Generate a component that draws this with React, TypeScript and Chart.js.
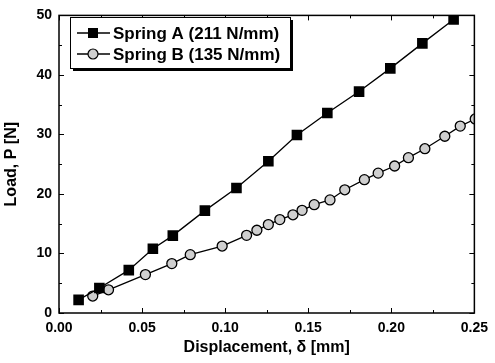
import React, { useEffect, useRef } from "react";
import { Chart, registerables } from "chart.js";

Chart.register(...registerables);

const springALabel = "Spring A (211 N/mm)";
const springAX = [0.0118, 0.0243, 0.042, 0.0565, 0.0685, 0.0878, 0.1068, 0.126, 0.1432, 0.1615, 0.1806, 0.1994, 0.2187, 0.2375];
const springAY = [2.2, 4.2, 7.2, 10.8, 13.0, 17.2, 21.0, 25.5, 29.9, 33.6, 37.2, 41.1, 45.3, 49.3];

const springBLabel = "Spring B (135 N/mm)";
const springBX = [0.0203, 0.0298, 0.052, 0.0679, 0.079, 0.0982, 0.1129, 0.1191, 0.126, 0.1329, 0.1408, 0.1463, 0.1536, 0.1631, 0.172, 0.1838, 0.1921, 0.202, 0.2103, 0.2202, 0.2322, 0.2415, 0.2505];
const springBY = [2.85, 3.9, 6.45, 8.3, 9.8, 11.25, 13.05, 13.9, 14.85, 15.7, 16.5, 17.25, 18.2, 19.0, 20.7, 22.4, 23.5, 24.7, 26.1, 27.6, 29.7, 31.4, 32.6];

const xMajorTicks = [0, 0.05, 0.1, 0.15, 0.2, 0.25];
const xMinorTicks = [0.025, 0.075, 0.125, 0.175, 0.225];
const yMajorTicks = [0, 10, 20, 30, 40, 50];
const yMinorTicks = [5, 15, 25, 35, 45];

const xTitle = "Displacement, \u03b4 [mm]";
const yTitle = "Load, P [N]";

const FONT = "'Liberation Sans', Arial, sans-serif";

const frameTicksPlugin = {
  id: "frameTicks",
  afterDatasetsDraw(chart: any) {
    const { ctx, chartArea: a, scales } = chart;
    const xs = scales.x;
    const ys = scales.y;
    ctx.save();
    ctx.strokeStyle = "#000";
    ctx.lineWidth = 1;
    const major = 5;
    const minor = 3;
    const drawX = (vals: number[], len: number) => {
      vals.forEach((v) => {
        const px = Math.round(xs.getPixelForValue(v)) + 0.5;
        ctx.beginPath();
        ctx.moveTo(px, a.bottom);
        ctx.lineTo(px, a.bottom - len);
        ctx.moveTo(px, a.top);
        ctx.lineTo(px, a.top + len);
        ctx.stroke();
      });
    };
    const drawY = (vals: number[], len: number) => {
      vals.forEach((v) => {
        const py = Math.round(ys.getPixelForValue(v)) + 0.5;
        ctx.beginPath();
        ctx.moveTo(a.left, py);
        ctx.lineTo(a.left + len, py);
        ctx.moveTo(a.right, py);
        ctx.lineTo(a.right - len, py);
        ctx.stroke();
      });
    };
    drawX(xMajorTicks, major);
    drawX(xMinorTicks, minor);
    drawY(yMajorTicks, major);
    drawY(yMinorTicks, minor);
    ctx.lineWidth = 1.5;
    ctx.strokeRect(a.left, a.top, a.right - a.left, a.bottom - a.top);
    ctx.restore();
  },
};

const legendPlugin = {
  id: "boxLegend",
  afterDraw(chart: any) {
    const { ctx } = chart;
    const bx = 70, by = 17, bw = 220, bh = 51;
    ctx.save();
    ctx.fillStyle = "#000";
    ctx.fillRect(bx + 3, by + 3, bw, bh);
    ctx.fillStyle = "#fff";
    ctx.fillRect(bx, by, bw, bh);
    ctx.strokeStyle = "#000";
    ctx.lineWidth = 1;
    ctx.strokeRect(bx + 0.5, by + 0.5, bw, bh);
    const rows = [16, 37];
    chart.data.datasets.forEach((ds: any, i: number) => {
      const cy = by + rows[i];
      ctx.strokeStyle = "#000";
      ctx.lineWidth = 1.3;
      ctx.beginPath();
      ctx.moveTo(bx + 7, cy);
      ctx.lineTo(bx + 40, cy);
      ctx.stroke();
      const mx = bx + 23;
      if (ds.pointStyle === "rect") {
        ctx.fillStyle = "#000";
        ctx.fillRect(mx - 5, cy - 5, 10, 10);
      } else {
        ctx.fillStyle = ds.pointBackgroundColor;
        ctx.beginPath();
        ctx.arc(mx, cy, 5, 0, Math.PI * 2);
        ctx.fill();
        ctx.lineWidth = 1.2;
        ctx.stroke();
      }
      ctx.fillStyle = "#000";
      ctx.font = `bold 17px ${FONT}`;
      ctx.textBaseline = "middle";
      ctx.textAlign = "left";
      ctx.fillText(ds.label, bx + 43, cy + 1);
    });
    ctx.restore();
  },
};

export default function App() {
  const ref = useRef<HTMLCanvasElement | null>(null);
  useEffect(() => {
    if (!ref.current) return;
    const chart = new Chart(ref.current, {
      type: "line",
      data: {
        datasets: [
          {
            label: springALabel,
            data: springAX.map((x, i) => ({ x, y: springAY[i] })),
            borderColor: "#000",
            borderWidth: 1.3,
            pointStyle: "rect",
            pointRadius: 7.5,
            pointBackgroundColor: "#000",
            pointBorderColor: "#000",
            pointBorderWidth: 0,
            tension: 0,
          },
          {
            label: springBLabel,
            data: springBX.map((x, i) => ({ x, y: springBY[i] })),
            borderColor: "#000",
            borderWidth: 1.3,
            pointStyle: "circle",
            pointRadius: 5,
            pointBackgroundColor: "#cfcfcf",
            pointBorderColor: "#000",
            pointBorderWidth: 1.3,
            tension: 0,
          },
        ],
      },
      options: {
        animation: false,
        responsive: false,
        devicePixelRatio: 1,
        layout: { padding: { top: 12, right: 14, bottom: 0, left: 0 } },
        plugins: {
          legend: { display: false },
          tooltip: { enabled: false },
        },
        scales: {
          x: {
            type: "linear",
            min: 0,
            max: 0.25,
            grid: { display: false, drawTicks: false },
            border: { display: false },
            ticks: {
              stepSize: 0.05,
              padding: 7,
              color: "#000",
              font: { family: FONT, size: 14, weight: "bold" },
              callback: (v: any) => Number(v).toFixed(2),
            },
            title: {
              display: true,
              text: xTitle,
              color: "#000",
              font: { family: FONT, size: 16, weight: "bold" },
              padding: { top: 4, bottom: 6 },
            },
            afterFit: (s: any) => {
              s.height = 50;
            },
          },
          y: {
            type: "linear",
            min: 0,
            max: 50,
            grid: { display: false, drawTicks: false },
            border: { display: false },
            ticks: {
              stepSize: 10,
              padding: 7,
              color: "#000",
              font: { family: FONT, size: 14, weight: "bold" },
            },
            title: {
              display: true,
              text: yTitle,
              color: "#000",
              font: { family: FONT, size: 16, weight: "bold" },
              padding: { top: 2, bottom: 0 },
            },
            afterFit: (s: any) => {
              s.width = 59;
            },
          },
        },
      },
      plugins: [frameTicksPlugin, legendPlugin],
    } as any);
    return () => chart.destroy();
  }, []);
  return (
    <div style={{ position: "fixed", left: 0, top: 0, width: 495, height: 363, background: "#fff" }}>
      <canvas ref={ref} width={495} height={363} style={{ width: 495, height: 363 }} />
    </div>
  );
}
